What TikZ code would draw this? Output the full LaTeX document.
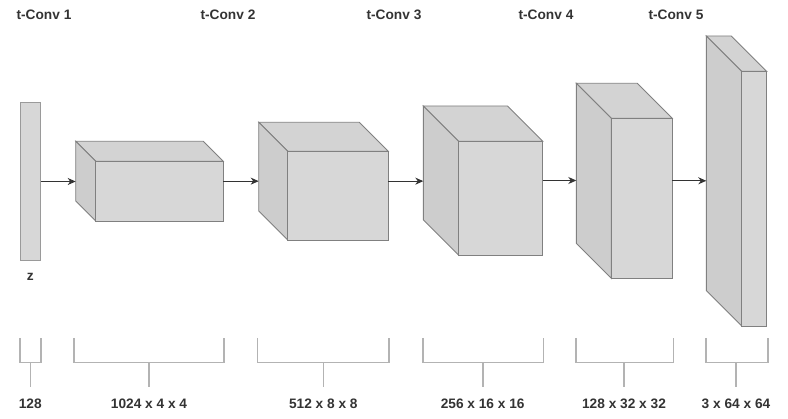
\documentclass[tikz,border=0pt]{standalone}
\usepackage{fontspec}
\setmainfont{Liberation Sans}
\usetikzlibrary{arrows.meta,calc}
\definecolor{txt}{HTML}{333333}
\definecolor{edgec}{HTML}{808080}
\definecolor{zedge}{HTML}{9A9A9A}
\definecolor{frontc}{HTML}{D7D7D7}
\definecolor{topc}{HTML}{D3D3D3}
\definecolor{sidec}{HTML}{CDCDCD}
\definecolor{brk}{HTML}{B3B3B3}
\tikzset{
  face/.style={draw=edgec, line width=0.9pt, line join=miter},
  lbl/.style={text=txt, font=\bfseries\fontsize{13.7}{16}\selectfont, inner sep=0pt, anchor=base},
  arr/.style={draw=txt, line width=0.9pt, -{Stealth[length=8pt,width=7pt,inset=2.5pt]}},
  brace/.style={draw=brk, line width=1.6pt},
}
\newcommand{\cubebox}[6]{%
  \node[inner sep=0pt, outer sep=0pt, minimum width={(#4-#2)*1pt}, minimum height={(#5-#3)*1pt}] (#1) at ({(#2+#4)/2},{(#3+#5)/2}) {};
  \filldraw[face, fill=topc] (#2,#3) -- ({#4-#6},#3) -- (#4,{#3+#6}) -- ({#2+#6},{#3+#6}) -- cycle;
  \filldraw[face, fill=sidec] (#2,#3) -- ({#2+#6},{#3+#6}) -- ({#2+#6},#5) -- (#2,{#5-#6}) -- cycle;
  \filldraw[face, fill=frontc] ({#2+#6},{#3+#6}) rectangle (#4,#5);
}
\newcommand{\sizebrace}[5]{% name, x1, x2, stem, text
  \node[lbl] (#1) at (#4,408.3) {#5};
  \coordinate (#1top) at (#4,387.3);
  \draw[brace] (#2,338) -- (#2,362.7) -- (#3,362.7) -- (#3,338);
  \draw[brace] (#4,362.7) -- (#1top);
}
\begin{document}
\begin{tikzpicture}[x=1pt,y=-1pt]
\useasboundingbox (0,0) rectangle (788,419);
% titles
\node[lbl] (t1) at (44,20) {t-Conv 1};
\node[lbl] (t2) at (228,20) {t-Conv 2};
\node[lbl] (t3) at (394,20) {t-Conv 3};
\node[lbl] (t4) at (546,20) {t-Conv 4};
\node[lbl] (t5) at (676,20) {t-Conv 5};
% latent z
\node[draw=zedge, fill=frontc, line width=0.9pt, inner sep=0pt, minimum width=20.5pt, minimum height=158.4pt] (z) at (30.35,181.5) {};
\node[lbl] (zl) at (30.3,280.7) {z};
% cubes
\cubebox{c1}{75.7}{141.3}{223.3}{221}{20}
\cubebox{c2}{258.7}{122.3}{388.3}{240}{29}
\cubebox{c3}{423.3}{106}{542.7}{255}{35.3}
\cubebox{c4}{576.3}{83.3}{672.3}{278.3}{35}
\cubebox{c5}{706.3}{36}{766.7}{326}{35.4}
% arrows
\draw[arr] (z.east) -- (z.east -| c1.west);
\draw[arr] (c1.east) -- (c1.east -| c2.west);
\draw[arr] (c2.east) -- (c2.east -| c3.west);
\draw[arr] (c3.east) -- (c3.east -| c4.west);
\draw[arr] (c4.east) -- (c4.east -| c5.west);
% size braces
\sizebrace{s0}{20}{40.7}{30.3}{128}
\sizebrace{s1}{74}{224}{149}{1024 x 4 x 4}
\sizebrace{s2}{257.3}{388.7}{323.3}{512 x 8 x 8}
\sizebrace{s3}{422.7}{543.3}{482.7}{256 x 16 x 16}
\sizebrace{s4}{575.7}{673.3}{624}{128 x 32 x 32}
\sizebrace{s5}{705.7}{767.7}{736}{3 x 64 x 64}
\end{tikzpicture}
\end{document}
